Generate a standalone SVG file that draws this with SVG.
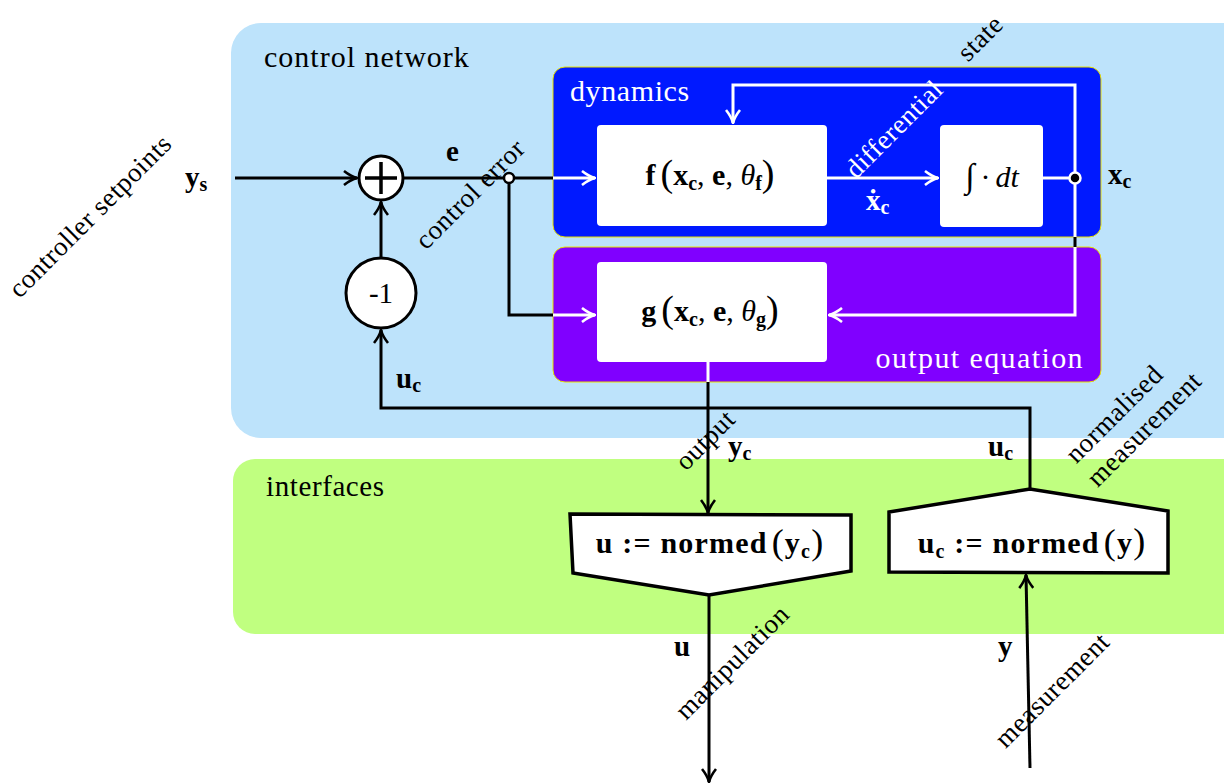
<svg xmlns="http://www.w3.org/2000/svg" width="1224" height="784" viewBox="0 0 1224 784">
  <style>
    text, tspan { font-family: "Liberation Serif", serif !important; }
    .t { fill: #000; }
    .w { fill: #fff; }
    .b { font-weight: bold; }
    .lab { font-size: 29px; }
    .m { font-size: 30px; }
    .edge { fill: none; stroke: #000; stroke-width: 3; }
    .wedge { fill: none; stroke: #fff; stroke-width: 3; }
    .box { fill: #fff; }
  </style>
  <defs>
    <marker id="arr" viewBox="0 0 16 16" refX="15" refY="8" markerWidth="16" markerHeight="16" markerUnits="userSpaceOnUse" orient="auto">
      <path d="M2,1 Q9,6.5 15,8 Q9,9.5 2,15" fill="none" stroke="#000" stroke-width="2.6" stroke-linejoin="round"/>
    </marker>
    <marker id="arrw" viewBox="0 0 16 16" refX="15" refY="8" markerWidth="16" markerHeight="16" markerUnits="userSpaceOnUse" orient="auto">
      <path d="M2,1 Q9,6.5 15,8 Q9,9.5 2,15" fill="none" stroke="#fff" stroke-width="2.6" stroke-linejoin="round"/>
    </marker>
  </defs>

  <!-- background regions -->
  <g id="control-network">
    <rect x="231" y="23" width="1030" height="415" rx="30" fill="#bde3fb"/>
    <text class="t" style="font-family:'Liberation Serif',serif" x="264" y="67" font-size="30" letter-spacing="1">control network</text>
  </g>
  <g id="interfaces">
    <rect x="233" y="459" width="1030" height="175" rx="22" fill="#c0ff80"/>
    <text class="t" style="font-family:'Liberation Serif',serif" x="266" y="496" font-size="29" letter-spacing="0.6">interfaces</text>
  </g>

  <!-- dynamics block -->
  <g id="dynamics">
    <rect x="553" y="67" width="548" height="170" rx="12" fill="#0019ff" stroke="#e8e000" stroke-width="1"/>
    <text class="t w" style="font-family:'Liberation Serif',serif" x="570" y="101" font-size="30" letter-spacing="0.6">dynamics</text>
  </g>
  <g id="output-equation">
    <rect x="553" y="247" width="548" height="135" rx="12" fill="#8000ff" stroke="#e8e000" stroke-width="1"/>
    <text class="t w" style="font-family:'Liberation Serif',serif" x="1084" y="368" font-size="30" letter-spacing="1.4" text-anchor="end">output equation</text>
  </g>

  <!-- function blocks -->
  <g id="f-block">
    <rect class="box" x="597" y="125" width="230" height="101" rx="4"/>
    <text class="t m" style="font-family:'Liberation Serif',serif" x="710" y="185" text-anchor="middle"><tspan class="b">f</tspan><tspan dx="5" font-size="38" dy="1">(</tspan><tspan class="b" dy="-1">x</tspan><tspan class="b" font-size="20" dy="5">c</tspan><tspan dy="-5">, </tspan><tspan class="b">e</tspan><tspan>, </tspan><tspan font-style="italic">θ</tspan><tspan class="b" font-size="20" dy="5">f</tspan><tspan font-size="38" dy="-4">)</tspan></text>
  </g>
  <g id="integrator">
    <rect class="box" x="940" y="125" width="103" height="102" rx="4"/>
    <text class="t m" style="font-family:'Liberation Serif',serif" x="992" y="187" text-anchor="middle"><tspan font-size="34" font-style="italic">∫</tspan><tspan dx="6">·</tspan><tspan dx="5" font-style="italic">dt</tspan></text>
  </g>
  <g id="g-block">
    <rect class="box" x="597" y="262" width="230" height="100" rx="4"/>
    <text class="t m" style="font-family:'Liberation Serif',serif" x="710" y="321" text-anchor="middle"><tspan class="b">g</tspan><tspan dx="5" font-size="38" dy="1">(</tspan><tspan class="b" dy="-1">x</tspan><tspan class="b" font-size="20" dy="5">c</tspan><tspan dy="-5">, </tspan><tspan class="b">e</tspan><tspan>, </tspan><tspan font-style="italic">θ</tspan><tspan class="b" font-size="20" dy="5">g</tspan><tspan font-size="38" dy="-4">)</tspan></text>
  </g>

  <!-- summation and gain -->
  <g id="sum">
    <circle cx="381" cy="178" r="22" fill="#fff" stroke="#000" stroke-width="3"/>
    <path d="M365,178 H397 M381,162 V194" stroke="#000" stroke-width="3.5"/>
  </g>
  <g id="gain">
    <circle cx="381" cy="293" r="35" fill="#fff" stroke="#000" stroke-width="3"/>
    <text class="t" style="font-family:'Liberation Serif',serif" x="381" y="303" font-size="29" text-anchor="middle">-1</text>
  </g>

  <!-- interface blocks -->
  <g id="normalise-output">
    <path d="M570,514 L851,515 L851,571 L709,595 L573,573 Z" fill="#fff" stroke="#000" stroke-width="3.5" stroke-linejoin="miter"/>
    <text class="t b" style="font-family:'Liberation Serif',serif" x="710" y="553" font-size="30" letter-spacing="1.2" text-anchor="middle">u := normed<tspan font-weight="normal" font-size="36" dy="1" dx="4">(</tspan><tspan dy="-1">y</tspan><tspan font-size="20" dy="5">c</tspan><tspan font-weight="normal" font-size="36" dy="-4">)</tspan></text>
  </g>
  <g id="normalise-measurement">
    <path d="M889,512 L1030,489 L1168,511 L1168,573 L889,572 Z" fill="#fff" stroke="#000" stroke-width="3.5" stroke-linejoin="miter"/>
    <text class="t b" style="font-family:'Liberation Serif',serif" x="1032" y="553" font-size="30" letter-spacing="1.2" text-anchor="middle">u<tspan font-size="20" dy="5">c</tspan><tspan dy="-5"> := normed</tspan><tspan font-weight="normal" font-size="36" dy="1" dx="4">(</tspan><tspan dy="-1">y</tspan><tspan font-weight="normal" font-size="36">)</tspan></text>
  </g>

  <!-- connectors -->
  <g id="connectors">
    <!-- setpoint into summation -->
    <path class="edge" d="M235,178 H357" marker-end="url(#arr)"/>
    <!-- gain into summation -->
    <path class="edge" d="M381,257 V202" marker-end="url(#arr)"/>
    <!-- control error -->
    <path class="edge" d="M403,178 H553"/>
    <path class="wedge" d="M553,178 H595" marker-end="url(#arrw)"/>
    <path class="edge" d="M509,178 V315 H553"/>
    <path class="wedge" d="M553,315 H595" marker-end="url(#arrw)"/>
    <!-- state derivative -->
    <path class="wedge" d="M827,178 H938" marker-end="url(#arrw)"/>
    <!-- state out of integrator -->
    <path class="wedge" d="M1043,178 H1075"/>
    <path class="wedge" d="M1075,178 V85 H733 V123" marker-end="url(#arrw)"/>
    <path class="wedge" d="M1075,178 V237"/>
    <path class="edge" d="M1075,237 V247"/>
    <path class="wedge" d="M1075,247 V315 H829" marker-end="url(#arrw)"/>
    <!-- controller output -->
    <path class="wedge" d="M708,362 V382"/>
    <path class="edge" d="M708,382 V513" marker-end="url(#arr)"/>
    <!-- manipulation -->
    <path class="edge" d="M709,595 V782" marker-end="url(#arr)"/>
    <!-- measurement -->
    <path class="edge" d="M1030,768 L1026,575" marker-end="url(#arr)"/>
    <!-- normalised measurement feedback -->
    <path class="edge" d="M1030,489 V408 H381 V330" marker-end="url(#arr)"/>
    <!-- junctions -->
    <circle cx="509" cy="178" r="5" fill="#fff" stroke="#000" stroke-width="2.5"/>
    <circle cx="1075" cy="178" r="5.5" fill="#000" stroke="#fff" stroke-width="2.5"/>
  </g>

  <!-- signal labels -->
  <g id="signal-labels">
    <text class="t b lab" style="font-family:'Liberation Serif',serif" x="185" y="187">y<tspan font-size="20" dy="4">s</tspan></text>
    <text class="t b lab" style="font-family:'Liberation Serif',serif" x="446" y="161">e</text>
    <text class="t b lab" style="font-family:'Liberation Serif',serif" x="396" y="388">u<tspan font-size="20" dy="4">c</tspan></text>
    <text class="t b lab" style="font-family:'Liberation Serif',serif" x="1108" y="184">x<tspan font-size="20" dy="4">c</tspan></text>
    <text class="t b w lab" style="font-family:'Liberation Serif',serif" x="866" y="210">ẋ<tspan font-size="20" dy="4">c</tspan></text>
    <text class="t b lab" style="font-family:'Liberation Serif',serif" x="728" y="456">y<tspan font-size="20" dy="4">c</tspan></text>
    <text class="t b lab" style="font-family:'Liberation Serif',serif" x="988" y="456">u<tspan font-size="20" dy="4">c</tspan></text>
    <text class="t b lab" style="font-family:'Liberation Serif',serif" x="674" y="656">u</text>
    <text class="t b lab" style="font-family:'Liberation Serif',serif" x="998" y="656">y</text>
  </g>

  <!-- diagonal descriptions -->
  <g id="descriptions" font-size="27" letter-spacing="0.5">
    <text class="t" style="font-family:'Liberation Serif',serif" transform="translate(92,218) rotate(-45)" text-anchor="middle" dominant-baseline="middle">controller setpoints</text>
    <text class="t" style="font-family:'Liberation Serif',serif" transform="translate(472,196) rotate(-45)" text-anchor="middle" dominant-baseline="middle">control error</text>
    <text class="t w" style="font-family:'Liberation Serif',serif" transform="translate(896,131) rotate(-45)" text-anchor="middle" dominant-baseline="middle">differential</text>
    <text class="t" style="font-family:'Liberation Serif',serif" transform="translate(982,40) rotate(-45)" text-anchor="middle" dominant-baseline="middle">state</text>
    <text class="t" style="font-family:'Liberation Serif',serif" transform="translate(707,442) rotate(-45)" text-anchor="middle" dominant-baseline="middle">output</text>
    <text class="t" style="font-family:'Liberation Serif',serif" transform="translate(1116,416) rotate(-45)" text-anchor="middle" dominant-baseline="middle">normalised</text>
    <text class="t" style="font-family:'Liberation Serif',serif" transform="translate(1146,431) rotate(-45)" text-anchor="middle" dominant-baseline="middle">measurement</text>
    <text class="t" style="font-family:'Liberation Serif',serif" transform="translate(734,664) rotate(-45)" text-anchor="middle" dominant-baseline="middle">manipulation</text>
    <text class="t" style="font-family:'Liberation Serif',serif" transform="translate(1054,692) rotate(-45)" text-anchor="middle" dominant-baseline="middle">measurement</text>
  </g>
</svg>
